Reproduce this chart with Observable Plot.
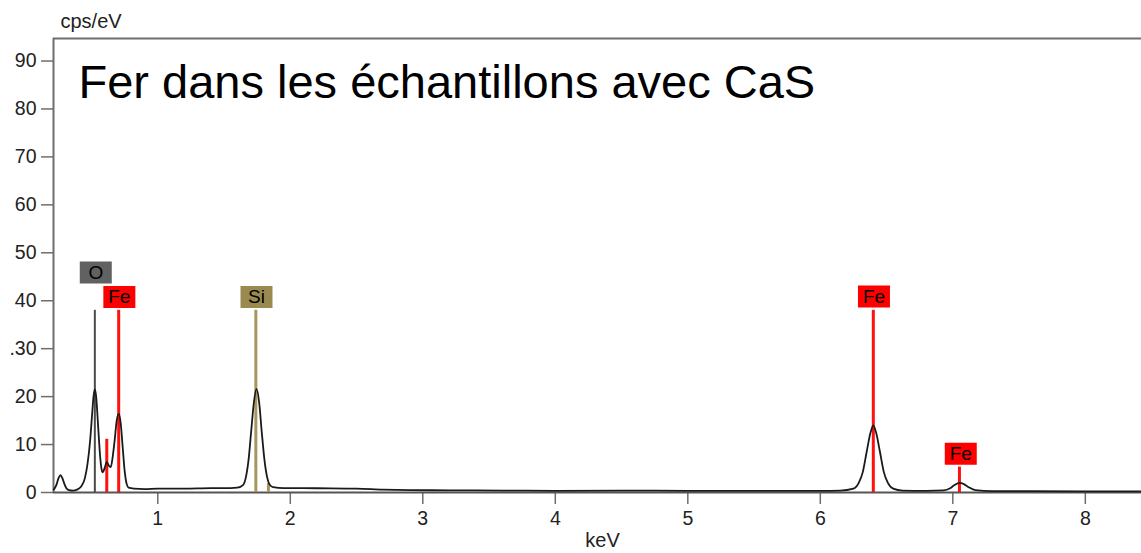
<!DOCTYPE html>
<html>
<head>
<meta charset="utf-8">
<script src="https://cdn.jsdelivr.net/npm/d3@7"></script>
<script src="https://cdn.jsdelivr.net/npm/@observablehq/plot@0.6"></script>
<style>
  html, body { margin: 0; padding: 0; background: #fff; }
  #chart svg { display: block; }
</style>
</head>
<body>
<div id="chart"></div>
<script>
// ---- Data ----
const chartTitle = "Fer dans les échantillons avec CaS";
const yUnitLabel = "cps/eV";
const xUnitLabel = "keV";

const xTicks = [1, 2, 3, 4, 5, 6, 7, 8];
const yTicks = [0, 10, 20, 30, 40, 50, 60, 70, 80, 90];
const yTickLabels = ["0", "10", "20", ".30", "40", "50", "60", "70", "80", "90"];

const xDomain = [0.213, 8.424];
const yDomain = [0, 94.7];

// Spectrum (keV, cps/eV)
const energy = [0.215,0.235,0.25,0.265,0.28,0.295,0.31,0.33,0.36,0.39,0.42,0.45,0.47,0.49,0.505,0.515,0.525,0.535,0.545,0.555,0.565,0.575,0.585,0.6,0.615,0.63,0.645,0.66,0.675,0.69,0.705,0.72,0.735,0.75,0.765,0.78,0.82,0.9,1.0,1.2,1.4,1.55,1.6,1.645,1.665,1.685,1.705,1.725,1.745,1.765,1.785,1.805,1.825,1.845,1.87,1.95,2.1,2.3,2.5,2.7,2.9,3.2,3.6,4.0,4.5,5.0,5.5,6.0,6.15,6.25,6.29,6.32,6.35,6.38,6.40,6.42,6.45,6.48,6.51,6.55,6.62,6.8,6.93,6.98,7.01,7.05,7.08,7.12,7.17,7.3,7.6,8.0,8.424];
const counts = [0.6,1.6,2.9,3.6,3.0,1.8,0.9,0.5,0.4,0.6,1.2,3.0,6.0,11,16.5,20,21.5,20,16,11.5,7.5,5.0,4.2,5.2,6.4,5.6,5.3,7.5,11,15,16.4,14.5,9.5,4.5,1.8,1.0,0.8,0.7,0.8,0.8,0.9,0.9,1.0,1.6,3.2,6.8,12.8,18.7,21.6,18.8,12.5,6.8,3.2,1.6,1.1,0.9,0.9,0.85,0.8,0.6,0.5,0.45,0.4,0.35,0.4,0.35,0.35,0.35,0.4,0.8,2.0,4.2,8.5,12.6,14,12.6,8.5,4.2,2.0,0.8,0.4,0.35,0.45,0.9,1.5,2.0,1.8,1.1,0.5,0.3,0.3,0.25,0.25];

// Emission lines (keV, top in cps/eV, element)
const lineEnergy = [0.525, 0.615, 0.705, 1.74, 1.835, 6.40, 7.05];
const lineTop    = [38, 11.1, 38, 38, 1.9, 38, 5.3];
const lineElem   = ["O", "Fe", "Fe", "Si", "Si", "Fe", "Fe"];

// Line labels (keV, label centre in cps/eV, element)
const labelEnergy = [0.532, 0.71, 1.745, 6.405, 7.06];
const labelLevel  = [45.9, 40.8, 40.8, 40.9, 8.1];
const labelElem   = ["O", "Fe", "Si", "Fe", "Fe"];

// ---- Styles ----
const elemLineColor = {O: "#4a4a4a", Fe: "#ff1010", Si: "#a8975a"};
const elemBoxColor  = {O: "#616161", Fe: "#ff0000", Si: "#9a8a50"};
const elemLineWidth = {O: 2, Fe: 3, Si: 3};
const axisColor = "#6e6e6e";
const font = "'Liberation Sans', Arial, Helvetica, sans-serif";

const spectrum = energy.map((e, i) => ({keV: e, cps: counts[i]}));
const lines = lineEnergy.map((e, i) => ({keV: e, top: lineTop[i], elem: lineElem[i]}));
const labels = labelEnergy.map((e, i) => ({keV: e, level: labelLevel[i], elem: labelElem[i]}));

// rectangular badge symbol for element labels
const badge = { draw(ctx) { ctx.rect(-16, -11, 32, 22); } };

const chart = Plot.plot({
  width: 1141,
  height: 553,
  marginLeft: 53,
  marginRight: 0,
  marginTop: 38,
  marginBottom: 61,
  style: {fontFamily: font, background: "#fff", color: "#222"},
  x: {domain: xDomain},
  y: {domain: yDomain},
  marks: [
    Plot.axisY({ticks: yTicks, tickFormat: (d) => yTickLabels[yTicks.indexOf(d)], tickSize: 12, tickPadding: 5, fontSize: 19.5, label: null, stroke: axisColor, strokeWidth: 1.5}),
    Plot.axisX({ticks: xTicks, tickFormat: (d) => String(d), tickSize: 12, tickPadding: 7, fontSize: 19.5, label: null, stroke: axisColor, strokeWidth: 1.5}),
    Plot.ruleX([xDomain[0]], {stroke: axisColor, strokeWidth: 2}),
    Plot.ruleY([yDomain[1]], {stroke: axisColor, strokeWidth: 2}),
    Plot.ruleY([0], {stroke: "#555", strokeWidth: 1.8}),
    Plot.ruleX(lines, {x: "keV", y1: 0, y2: "top", stroke: (d) => elemLineColor[d.elem], strokeWidth: (d) => elemLineWidth[d.elem]}),
    Plot.line(spectrum, {x: "keV", y: "cps", stroke: "#1a1a1a", strokeWidth: 1.8, curve: "monotone-x"}),
    Plot.dot(labels, {x: "keV", y: "level", symbol: badge, fill: (d) => elemBoxColor[d.elem], stroke: "none"}),
    Plot.text(labels, {x: "keV", y: "level", text: "elem", fill: "#000", fontSize: 19}),
    Plot.text([chartTitle], {frameAnchor: "top-left", dx: 25, dy: 59, lineAnchor: "bottom", textAnchor: "start", fontSize: 47, fill: "#000"}),
    Plot.text([yUnitLabel], {frameAnchor: "top-left", dx: 7, dy: -11, lineAnchor: "bottom", textAnchor: "start", fontSize: 20, fill: "#222"}),
    Plot.text([xUnitLabel], {frameAnchor: "bottom", dx: 5, dy: 54, lineAnchor: "bottom", fontSize: 20, fill: "#222"})
  ]
});
document.getElementById("chart").appendChild(chart);
</script>
</body>
</html>
